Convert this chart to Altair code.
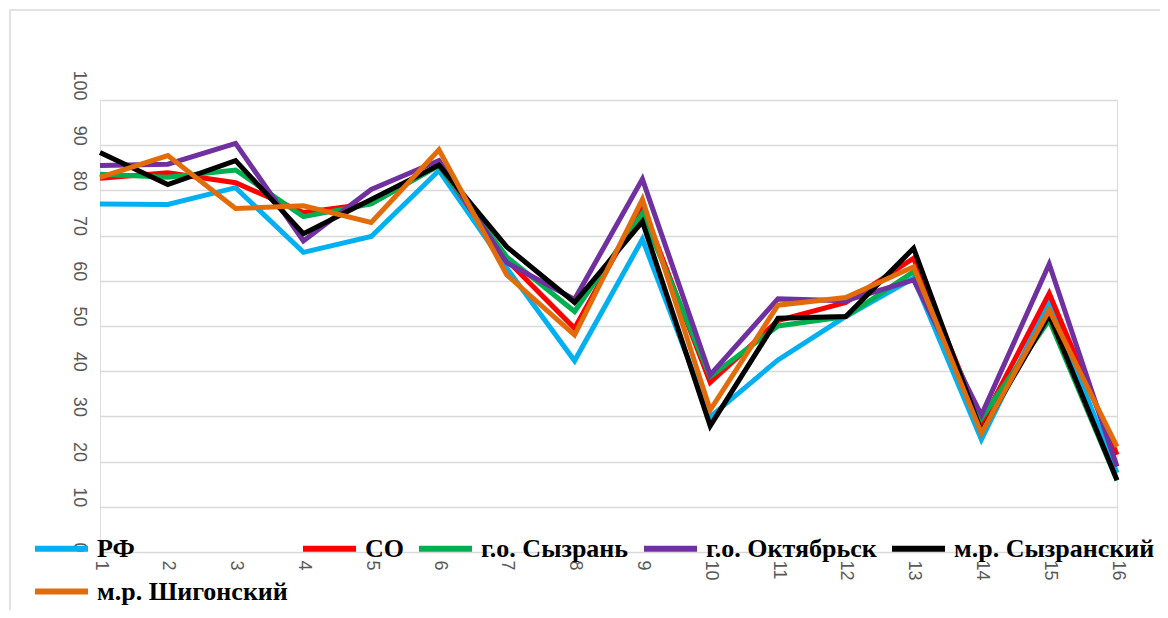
import altair as alt
import pandas as pd

categories = list(range(1, 16 + 1))
series_names = ["РФ", "СО", "г.о. Сызрань", "г.о. Октябрьск", "м.р. Сызранский", "м.р. Шигонский"]
rf = [77.0, 76.9, 80.6, 66.3, 69.8, 84.4, 62.8, 42.3, 69.2, 29.9, 42.5, 52.1, 60.6, 24.9, 55.4, 17.5]
so = [82.7, 83.9, 81.7, 75.1, 77.1, 85.6, 64.6, 49.5, 76.5, 37.5, 51.2, 55.2, 65.0, 28.5, 57.2, 21.5]
syzran = [83.6, 82.9, 84.5, 74.2, 77.0, 85.5, 65.3, 53.2, 74.9, 38.8, 50.0, 52.1, 62.0, 29.6, 51.3, 15.8]
oktyabrsk = [85.5, 85.8, 90.4, 68.8, 80.2, 86.6, 64.0, 55.9, 82.5, 39.2, 56.0, 55.6, 60.2, 30.3, 63.7, 18.9]
syzransky = [88.4, 81.3, 86.6, 70.4, 78.0, 85.6, 67.5, 55.2, 73.1, 27.9, 51.7, 52.1, 67.2, 26.6, 52.4, 15.9]
shigonsky = [82.9, 87.7, 76.0, 76.6, 72.9, 89.0, 61.3, 48.0, 78.0, 31.4, 54.6, 56.3, 63.1, 26.3, 53.5, 23.3]
colors = ["#00B0F0", "#FF0000", "#00B050", "#7030A0", "#000000", "#E36C0A"]
y_ticks = [0, 10, 20, 30, 40, 50, 60, 70, 80, 90, 100]

all_series = [rf, so, syzran, oktyabrsk, syzransky, shigonsky]
rows = []
for name, vals in zip(series_names, all_series):
    for c, v in zip(categories, vals):
        rows.append({"x": c, "value": v, "series": name})
df = pd.DataFrame(rows)

lines = alt.Chart(df).mark_line(strokeWidth=5, strokeJoin="miter").encode(
    x=alt.X("x:O", scale=alt.Scale(type="point", padding=0),
            axis=alt.Axis(title=None, labelAngle=90, labelAlign="left", labelBaseline="middle",
                          labelPadding=8, labelFontSize=18, labelColor="#595959",
                          labelFont="Liberation Sans", domain=False, ticks=False, grid=False)),
    y=alt.Y("value:Q", scale=alt.Scale(domain=[0, 100], nice=False),
            axis=alt.Axis(title=None, values=y_ticks, labelAngle=90, labelAlign="right",
                          labelBaseline="middle", labelPadding=22, labelFontSize=18,
                          labelColor="#595959", labelFont="Liberation Sans", domain=False,
                          ticks=False, grid=True, gridColor="#d9d9d9", gridWidth=1.5,
                          labelOverlap=False)),
    color=alt.Color("series:N", sort=series_names,
                    scale=alt.Scale(domain=series_names, range=colors),
                    legend=alt.Legend(title=None, orient="none", legendX=-68, legendY=419,
                                      direction="horizontal", columns=5, gridAlign="each",
                                      symbolType="stroke", symbolSize=2809, symbolStrokeWidth=6,
                                      labelFont="Liberation Serif", labelFontSize=26,
                                      labelFontWeight="bold", labelColor="#000000",
                                      labelOffset=6, columnPadding=3, rowPadding=-20,
                                      labelLimit=400)),
    order=alt.Order("series_order:Q"),
).transform_calculate(
    series_order="indexof(" + str(series_names).replace("'", '"') + ", datum.series)"
)

frame_left = alt.Chart(pd.DataFrame({"a": [0]})).mark_rule(color="#d9d9d9", strokeWidth=1.5).encode(
    x=alt.value(-90), y=alt.value(-90), y2=alt.value(520))
frame_top = alt.Chart(pd.DataFrame({"a": [0]})).mark_rule(color="#d9d9d9", strokeWidth=1.5).encode(
    x=alt.value(-90), x2=alt.value(1060), y=alt.value(-90))

chart = alt.layer(frame_left, frame_top, lines).properties(
    width=1017, height=452,
    autosize=alt.AutoSizeParams(type="none"),
    padding={"left": 92, "top": 92, "right": 43, "bottom": 58},
).configure_view(stroke=None).configure(background="white")

chart.save("out.html", embed_options={"renderer": "svg", "actions": False})
